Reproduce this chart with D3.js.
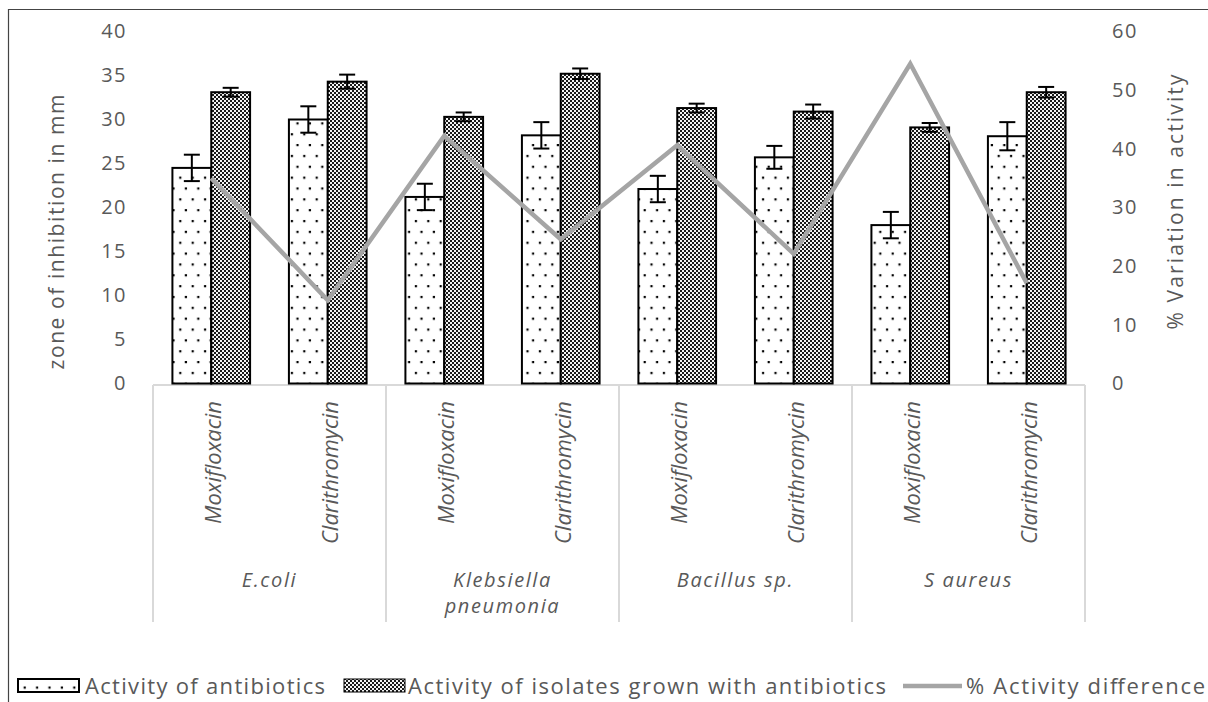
<!DOCTYPE html>
<html>
<head>
<meta charset="utf-8">
<script src="https://cdn.jsdelivr.net/npm/d3@7"></script>
<style>
  html, body { margin: 0; padding: 0; background: #fff; }
  svg { display: block; font-family: "Open Sans", "Noto Sans", sans-serif; }
</style>
</head>
<body>
<svg id="chart" width="1208" height="702"></svg>
<script>
// Organisms (outer category level) and antibiotics (inner level)
const organisms = ["E.coli", "Klebsiella pneumonia", "Bacillus sp.", "S aureus"];
const organismLines = [["E.coli"], ["Klebsiella", "pneumonia"], ["Bacillus sp."], ["S aureus"]];
const antibiotics = ["Moxifloxacin", "Clarithromycin"];

// Zone of inhibition (mm), in order E.coli Mox, E.coli Clari, Kleb Mox, ...
const antibioticActivity = [24.5, 30.0, 21.2, 28.2, 22.1, 25.7, 18.0, 28.1];
const antibioticError    = [1.5, 1.5, 1.5, 1.5, 1.5, 1.3, 1.5, 1.6];
const isolateActivity    = [33.1, 34.3, 30.3, 35.2, 31.3, 30.9, 29.1, 33.1];
const isolateError       = [0.5, 0.8, 0.5, 0.6, 0.5, 0.8, 0.5, 0.6];
// % variation in activity (right axis)
const activityDifference = [35.0, 14.2, 42.2, 24.6, 40.6, 22.1, 54.5, 17.1];

const leftTicks  = [0, 5, 10, 15, 20, 25, 30, 35, 40];
const rightTicks = [0, 10, 20, 30, 40, 50, 60];

const seriesNames = ["Activity of antibiotics", "Activity of isolates grown with antibiotics", "% Activity difference"];

const svg = d3.select("#chart");
const grey = "#595959";
const lineGrey = "#a5a5a5";
const boxGrey = "#d9d9d9";

// Fill patterns: sparse dots and a fine checkerboard
const defs = svg.append("defs");
const dots = defs.append("pattern").attr("id", "dots")
  .attr("patternUnits", "userSpaceOnUse").attr("width", 12.4).attr("height", 21.7);
dots.append("rect").attr("width", 12.4).attr("height", 21.7).attr("fill", "#fff");
dots.append("rect").attr("x", 5.6).attr("y", 3).attr("width", 2.2).attr("height", 2.2).attr("fill", "#000");
dots.append("rect").attr("x", 11.2).attr("y", 13.8).attr("width", 2.2).attr("height", 2.2).attr("fill", "#000");
dots.append("rect").attr("x", -1.2).attr("y", 13.8).attr("width", 2.2).attr("height", 2.2).attr("fill", "#000");

const checker = defs.append("pattern").attr("id", "checker")
  .attr("patternUnits", "userSpaceOnUse").attr("width", 4).attr("height", 4);
checker.append("rect").attr("width", 4).attr("height", 4).attr("fill", "#1a1a1a");
checker.append("rect").attr("x", 0).attr("y", 0).attr("width", 2).attr("height", 2).attr("fill", "#f4f4f4");
checker.append("rect").attr("x", 2).attr("y", 2).attr("width", 2).attr("height", 2).attr("fill", "#f4f4f4");

// Outer frame (top and left edges)
svg.append("path").attr("d", "M8.5,702 V9.5 H1208")
  .attr("fill", "none").attr("stroke", "#444").attr("stroke-width", 1.2);

const plot = { left: 153, right: 1085, top: 31.5, bottom: 383.5 };

const keys = [];
organisms.forEach(o => antibiotics.forEach(a => keys.push(o + "|" + a)));

const x = d3.scaleBand().domain(keys).range([plot.left, plot.right]).paddingInner(0).paddingOuter(0);
const xGroup = d3.scaleBand().domain(organisms).range([plot.left, plot.right]);
const inner = d3.scaleBand().domain(["antibiotic", "isolate"])
  .range([0, x.bandwidth()]).paddingInner(0).paddingOuter(0.5);

const yL = d3.scaleLinear().domain([0, 40]).range([plot.bottom, plot.top]);
const yR = d3.scaleLinear().domain([0, 60]).range([plot.bottom, plot.top]);

// Left axis
const leftAxis = svg.append("g").attr("transform", `translate(${plot.left},0)`)
  .call(d3.axisLeft(yL).tickValues(leftTicks).tickSize(0).tickPadding(26));
leftAxis.select(".domain").remove();
leftAxis.selectAll("text").attr("fill", grey).style("font-size", "20px")
  .style("letter-spacing", "1.5px").style("font-family", '"Open Sans", sans-serif');

// Right axis
const rightAxis = svg.append("g").attr("transform", `translate(${plot.right},0)`)
  .call(d3.axisRight(yR).tickValues(rightTicks).tickSize(0).tickPadding(27));
rightAxis.select(".domain").remove();
rightAxis.selectAll("text").attr("fill", grey).style("font-size", "20px")
  .style("letter-spacing", "1.5px").style("font-family", '"Open Sans", sans-serif');

// Axis titles
svg.append("text").attr("transform", "translate(64,232) rotate(-90)")
  .attr("text-anchor", "middle").attr("fill", grey).style("font-size", "21px")
  .attr("textLength", 275).attr("lengthAdjust", "spacing")
  .text("zone of inhibition in mm");
svg.append("text").attr("transform", "translate(1183,202) rotate(-90)")
  .attr("text-anchor", "middle").attr("fill", grey).style("font-size", "21px")
  .attr("textLength", 255).attr("lengthAdjust", "spacing")
  .text("% Variation in activity");

// Multi-level category box
const boxTop = 385, boxBottom = 622;
const box = svg.append("g");
box.append("line").attr("x1", plot.left).attr("x2", plot.right)
  .attr("y1", boxTop).attr("y2", boxTop).attr("stroke", boxGrey).attr("stroke-width", 2);
[...organisms.map(o => xGroup(o)), plot.right].forEach(px => {
  box.append("line").attr("x1", px).attr("x2", px).attr("y1", boxTop).attr("y2", boxBottom)
    .attr("stroke", boxGrey).attr("stroke-width", 2);
});

// Antibiotic labels (rotated)
const labelLen = { Moxifloxacin: 123, Clarithromycin: 143 };
keys.forEach(k => {
  const cx = x(k) + x.bandwidth() / 2;
  const name = k.split("|")[1];
  svg.append("text").attr("transform", `translate(${cx + 10},401) rotate(-90)`)
    .attr("text-anchor", "end").attr("fill", grey)
    .style("font-size", "21px").style("font-style", "italic")
    .attr("textLength", labelLen[name]).attr("lengthAdjust", "spacingAndGlyphs")
    .text(name);
});

// Organism labels
organisms.forEach((o, i) => {
  const cx = xGroup(o) + xGroup.bandwidth() / 2;
  const t = svg.append("text").attr("text-anchor", "middle").attr("fill", grey)
    .style("font-size", "20px").style("font-style", "italic").style("letter-spacing", "1.6px");
  organismLines[i].forEach((ln, j) => {
    t.append("tspan").attr("x", cx).attr("y", 587 + j * 26).text(ln);
  });
});

// Bars
const barData = keys.map((k, i) => ({
  key: k,
  a: antibioticActivity[i], ae: antibioticError[i],
  b: isolateActivity[i], be: isolateError[i],
  d: activityDifference[i]
}));

const bars = svg.append("g");
barData.forEach(d => {
  const x0 = x(d.key);
  bars.append("rect")
    .attr("x", x0 + inner("antibiotic")).attr("y", yL(d.a))
    .attr("width", inner.bandwidth()).attr("height", yL(0) - yL(d.a))
    .attr("fill", "url(#dots)").attr("stroke", "#000").attr("stroke-width", 2);
  bars.append("rect")
    .attr("x", x0 + inner("isolate")).attr("y", yL(d.b))
    .attr("width", inner.bandwidth()).attr("height", yL(0) - yL(d.b))
    .attr("fill", "url(#checker)").attr("stroke", "#000").attr("stroke-width", 2);
});

// Error bars
const errs = svg.append("g").attr("stroke", "#000").attr("stroke-width", 2);
barData.forEach(d => {
  [["antibiotic", d.a, d.ae], ["isolate", d.b, d.be]].forEach(([s, v, e]) => {
    const cx = x(d.key) + inner(s) + inner.bandwidth() / 2;
    const y1 = yL(v + e), y2 = yL(v - e);
    errs.append("line").attr("x1", cx).attr("x2", cx).attr("y1", y1).attr("y2", y2);
    errs.append("line").attr("x1", cx - 8).attr("x2", cx + 8).attr("y1", y1).attr("y2", y1);
    errs.append("line").attr("x1", cx - 8).attr("x2", cx + 8).attr("y1", y2).attr("y2", y2);
  });
});

// % Activity difference line (right axis)
const line = d3.line()
  .x(d => x(d.key) + x.bandwidth() / 2)
  .y(d => yR(d.d));
svg.append("path").datum(barData).attr("d", line)
  .attr("fill", "none").attr("stroke", lineGrey).attr("stroke-width", 4.5)
  .attr("stroke-linejoin", "miter");

// Legend
const lg = svg.append("g").style("font-size", "22px").attr("fill", grey);
lg.append("rect").attr("x", 18).attr("y", 679).attr("width", 61).attr("height", 13)
  .attr("fill", "url(#dots)").attr("stroke", "#000").attr("stroke-width", 2);
lg.append("text").attr("x", 85).attr("y", 694).attr("textLength", 240)
  .attr("lengthAdjust", "spacing").text(seriesNames[0]);
lg.append("rect").attr("x", 344).attr("y", 679).attr("width", 61).attr("height", 13)
  .attr("fill", "url(#checker)").attr("stroke", "#000").attr("stroke-width", 1);
lg.append("text").attr("x", 408).attr("y", 694).attr("textLength", 478)
  .attr("lengthAdjust", "spacing").text(seriesNames[1]);
lg.append("line").attr("x1", 903).attr("x2", 962).attr("y1", 686).attr("y2", 686)
  .attr("stroke", lineGrey).attr("stroke-width", 4.5);
lg.append("text").attr("x", 966).attr("y", 694).attr("textLength", 239)
  .attr("lengthAdjust", "spacing").text(seriesNames[2]);
</script>
</body>
</html>
